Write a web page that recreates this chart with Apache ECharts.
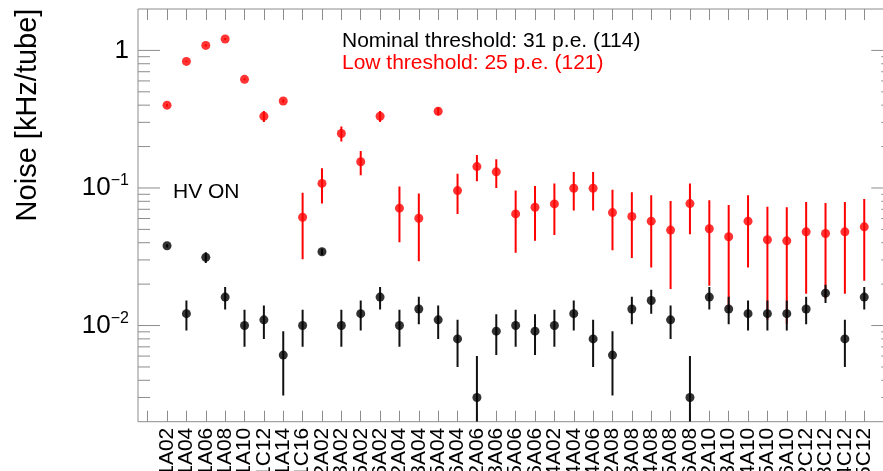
<!DOCTYPE html>
<html><head><meta charset="utf-8">
<script src="https://cdn.jsdelivr.net/npm/echarts@6/dist/echarts.min.js"></script>
<style>html,body{margin:0;padding:0;background:#fff}#c{width:883px;height:471px}</style>
</head><body><div id="c"></div>
<script>
const channels = ['1A02','1A04','1A06','1A08','1A10','1C12','1A14','1C16',
  '2A02','3A02','5A02','6A02','2A04','3A04','5A04','6A04',
  '2A06','3A06','5A06','6A06','4A02','4A04','4A06',
  '2A08','3A08','4A08','5A08','6A08',
  '2A10','3A10','4A10','5A10','6A10',
  '2C12','3C12','4C12','5C12'];
// Nominal threshold (black)
const nominalValues = [0.038,0.0122,0.0313,0.0161,0.0100,0.0110,0.0061,0.0100,
  0.0344,0.0100,0.0122,0.0161,0.0100,0.0132,0.0110,0.0080,
  0.0030,0.0091,0.0100,0.0091,0.0100,0.0122,0.0080,
  0.0061,0.0132,0.0152,0.0110,0.0030,
  0.0161,0.0132,0.0122,0.0122,0.0122,
  0.0132,0.0172,0.0080,0.0161];
const nominalErrors = [0.001,0.003,0.0028,0.003,0.003,0.003,0.003,0.003,
  0.0018,0.003,0.003,0.003,0.003,0.003,0.003,0.003,
  0.003,0.003,0.003,0.003,0.003,0.003,0.003,
  0.003,0.003,0.003,0.003,0.003,
  0.003,0.003,0.003,0.003,0.003,
  0.003,0.0026,0.003,0.003];
// Low threshold (red)
const lowValues = [0.40,0.832,1.087,1.21,0.616,0.332,0.429,0.0613,
  0.108,0.249,0.155,0.332,0.0713,0.0603,0.361,0.0957,
  0.143,0.131,0.0648,0.0724,0.0766,0.0995,0.0995,
  0.0662,0.0620,0.0574,0.0494,0.0770,
  0.0505,0.0442,0.0574,0.0420,0.0413,
  0.0480,0.0467,0.0480,0.0522];
const lowErrors = [0.01,0.01,0.02,0.02,0.01,0.03,0.01,0.031,
  0.031,0.031,0.031,0.03,0.031,0.031,0.023,0.031,
  0.031,0.031,0.031,0.031,0.031,0.031,0.031,
  0.031,0.031,0.031,0.031,0.031,
  0.031,0.031,0.031,0.031,0.031,
  0.031,0.031,0.031,0.031];
const yMin = 0.002, yMax = 2;
const yMajorTicks = [0.01, 0.1, 1];
const yMinorTicks = [0.003,0.004,0.005,0.006,0.007,0.008,0.009,
  0.02,0.03,0.04,0.05,0.06,0.07,0.08,0.09,
  0.2,0.3,0.4,0.5,0.6,0.7,0.8,0.9];
const xCategories = [''].concat(channels, [' ']);

const FONT = '"Liberation Sans", Arial, Helvetica, sans-serif';
const GRAY = '#8c8c8c';

function errRender(color) {
  return function (params, api) {
    const x = api.value(0);
    const lo = Math.max(api.value(1), yMin);
    const hi = Math.min(api.value(2), yMax);
    const p1 = api.coord([x, lo]);
    const p2 = api.coord([x, hi]);
    return {type: 'line', shape: {x1: p1[0], y1: p1[1], x2: p2[0], y2: p2[1]},
      style: {stroke: color, lineWidth: 2}};
  };
}
function tickRender(params, api) {
  const cs = params.coordSys;
  const y = api.coord([0, api.value(1)])[1];
  const len = api.value(2) ? 22 : 12;
  return {type: 'group', children: [
    {type: 'line', shape: {x1: cs.x, y1: y, x2: cs.x + len, y2: y}, style: {stroke: GRAY, lineWidth: 1}},
    {type: 'line', shape: {x1: cs.x + cs.width - len, y1: y, x2: cs.x + cs.width, y2: y}, style: {stroke: GRAY, lineWidth: 1}}
  ]};
}

const chart = echarts.init(document.getElementById('c'), null, {renderer: 'canvas'});
chart.setOption({
  animation: false,
  backgroundColor: '#fff',
  grid: {left: 138, top: 9, bottom: 49.3, right: -10.3, containLabel: false, outerBoundsMode: 'none',
    show: true, borderColor: GRAY, borderWidth: 1, backgroundColor: 'transparent'},
  xAxis: [{
    type: 'category', data: xCategories, position: 'bottom', boundaryGap: true,
    axisLine: {show: false},
    axisTick: {show: true, inside: true, length: 11, alignWithLabel: true, interval: 0, lineStyle: {color: GRAY}},
    axisLabel: {show: true, interval: 0, rotate: 90, margin: 6, color: '#000', fontSize: 21, fontFamily: FONT, hideOverlap: false},
    splitLine: {show: false}
  }, {
    type: 'category', data: xCategories, position: 'top', boundaryGap: true,
    axisLine: {show: false},
    axisTick: {show: true, inside: true, length: 11, alignWithLabel: true, interval: 0, lineStyle: {color: GRAY}},
    axisLabel: {show: false}, splitLine: {show: false}
  }],
  yAxis: {
    type: 'log', logBase: 10, min: yMin, max: yMax,
    axisLine: {show: false}, axisTick: {show: false}, splitLine: {show: false}, minorTick: {show: false},
    axisLabel: {
      show: true, margin: 9, color: '#000', fontFamily: FONT,
      formatter: function (v) {
        const l = Math.log10(v);
        const r = Math.round(l);
        if (Math.abs(l - r) > 1e-6) return '';
        if (r === 0) return '{b|1}';
        return '{b|10}{s|' + (r < 0 ? '\u2212' : '') + Math.abs(r) + '}';
      },
      rich: {
        b: {fontSize: 26, fontFamily: FONT, color: '#000', lineHeight: 30, verticalAlign: 'middle'},
        s: {fontSize: 16, fontFamily: FONT, color: '#000', lineHeight: 16, verticalAlign: 'top'}
      }
    }
  },
  graphic: [
    {type: 'text', x: 28, y: 115, rotation: Math.PI / 2,
      style: {text: 'Noise [kHz/tube]', fontSize: 29, fontFamily: FONT, fill: '#000', align: 'center', verticalAlign: 'middle', textAlign: 'center', textVerticalAlign: 'middle'}},
    {type: 'text', x: 342, y: 41,
      style: {text: 'Nominal threshold: 31 p.e. (114)', fontSize: 21, fontFamily: FONT, fill: '#000', align: 'left', verticalAlign: 'middle', textAlign: 'left', textVerticalAlign: 'middle'}},
    {type: 'text', x: 342, y: 63,
      style: {text: 'Low threshold: 25 p.e. (121)', fontSize: 21, fontFamily: FONT, fill: '#ff0000', align: 'left', verticalAlign: 'middle', textAlign: 'left', textVerticalAlign: 'middle'}},
    {type: 'text', x: 173, y: 192,
      style: {text: 'HV ON', fontSize: 21, fontFamily: FONT, fill: '#000', align: 'left', verticalAlign: 'middle', textAlign: 'left', textVerticalAlign: 'middle'}}
  ],
  series: [
    {type: 'custom', name: 'yticks', renderItem: tickRender, silent: true, z: 1,
      encode: {x: 0, y: 1},
      data: yMajorTicks.map(v => [0, v, 1]).concat(yMinorTicks.map(v => [0, v, 0]))},
    {type: 'custom', name: 'lowErr', renderItem: errRender('#ff0000'), z: 2, clip: true,
      encode: {x: 0, y: [1, 2]},
      data: channels.map((c, i) => [c, lowValues[i] - lowErrors[i], lowValues[i] + lowErrors[i]])},
    {type: 'scatter', name: 'Low threshold', z: 3, symbol: 'circle', symbolSize: 9,
      itemStyle: {color: '#ff0000'},
      data: channels.map((c, i) => [c, lowValues[i]])},
    {type: 'custom', name: 'nomErr', renderItem: errRender('#111111'), z: 4, clip: true,
      encode: {x: 0, y: [1, 2]},
      data: channels.map((c, i) => [c, nominalValues[i] - nominalErrors[i], nominalValues[i] + nominalErrors[i]])},
    {type: 'scatter', name: 'Nominal threshold', z: 5, symbol: 'circle', symbolSize: 9,
      itemStyle: {color: '#000000'},
      data: channels.map((c, i) => [c, nominalValues[i]])}
  ]
});
</script>
</body></html>
